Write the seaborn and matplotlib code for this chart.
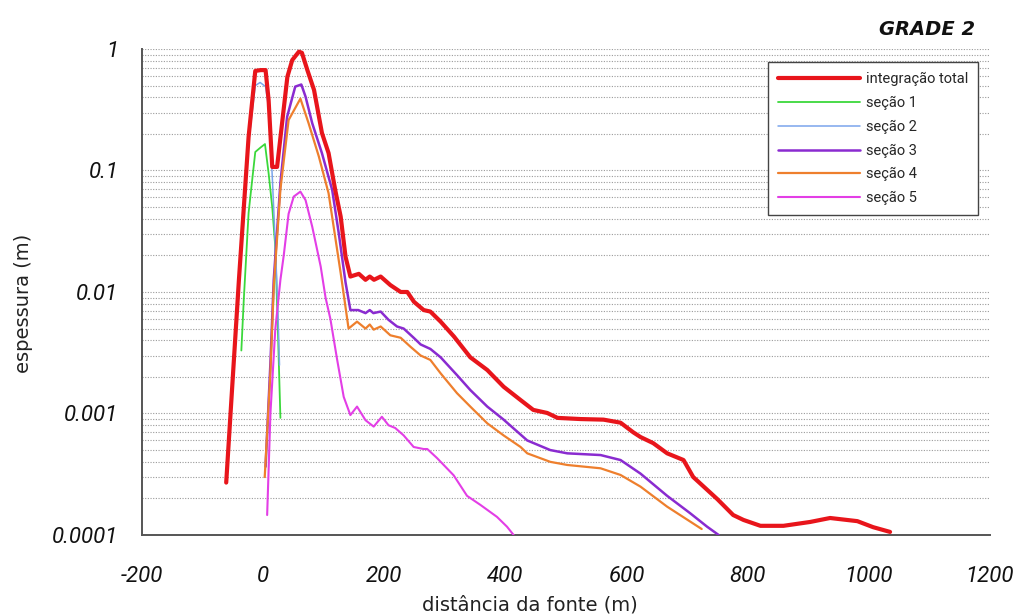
import matplotlib
matplotlib.use("Agg")
import matplotlib.pyplot as plt
from matplotlib.ticker import FixedLocator, FixedFormatter, MultipleLocator, LogLocator, NullFormatter
from matplotlib.font_manager import FontProperties
import seaborn as sns
import pandas as pd

# Thickness (m) versus distance from the source (m)
red_x = [-61, -40, -24, -13, -4, 4, 9, 15, 23, 40, 48, 59, 64, 73, 84, 97, 108, 119, 128, 136,
         144, 158, 169, 176, 183, 194, 210, 227, 238, 249, 265, 276, 293, 315, 342, 370, 397,
         425, 446, 469, 486, 524, 562, 590, 611, 623, 644, 667, 694, 710, 750, 776, 793, 821,
         859, 903, 936, 981, 1007, 1035]
red_y = [2.7e-4, 0.0126, 0.19, 0.66, 0.67, 0.67, 0.38, 0.107, 0.107, 0.59, 0.81, 0.95, 0.93,
         0.67, 0.46, 0.204, 0.139, 0.069, 0.0417, 0.0195, 0.0134, 0.0141, 0.0126, 0.0134,
         0.0126, 0.0134, 0.0114, 0.0100, 0.0100, 0.0083, 0.0071, 0.0069, 0.0057, 0.0043,
         0.0029, 0.00228, 0.00166, 0.00129, 0.00107, 0.00101, 0.00092, 0.0009, 0.00089,
         0.00084, 0.0007, 0.00064, 0.00057, 0.00047, 0.000414, 0.0003, 0.000197, 0.000146,
         0.000133, 0.000119, 0.000119, 0.000128, 0.000138, 0.00013, 0.000116, 0.000106]

green_x = [-36, -32, -24, -13, -4, 3, 9, 15, 20, 24, 28.5]
green_y = [0.0033, 0.0086, 0.045, 0.142, 0.155, 0.165, 0.095, 0.05, 0.0235, 0.0055, 0.00092]

blue_x = [-50, -40, -24, -13, -5, 4, 10, 15, 20, 24, 27]
blue_y = [0.0018, 0.011, 0.17, 0.5, 0.53, 0.49, 0.3, 0.09, 0.025, 0.008, 0.0025]

purple_x = [4, 12, 17.5, 28.5, 39.6, 53, 63, 70, 81, 97, 114, 125, 136, 144, 157, 169, 176,
            182, 194, 207, 221, 232, 248.5, 260, 276, 293, 320, 342, 370, 397, 436, 474, 502,
            557, 590, 623, 667, 705, 733, 752]
purple_y = [3.65e-4, 0.0026, 0.0126, 0.079, 0.277, 0.49, 0.51, 0.405, 0.245, 0.139, 0.069,
            0.03, 0.012, 0.0071, 0.0071, 0.0067, 0.0071, 0.0067, 0.0069, 0.0059, 0.0052, 0.005,
            0.0042, 0.0037, 0.0034, 0.0029, 0.00207, 0.00156, 0.00114, 0.00089, 0.0006, 0.0005,
            0.00047, 0.000455, 0.000414, 0.00032, 0.00021, 0.000151, 0.000117, 0.0001]

orange_x = [2.6, 12, 17.5, 28.5, 42, 61.5, 75, 92, 108, 128, 136, 141, 155, 169, 176, 182.5,
            194, 210, 227, 243, 260, 276, 293, 320, 342, 370, 397, 425, 436, 474, 502, 557, 590,
            623, 667, 705, 724]
orange_y = [3.0e-4, 0.0022, 0.011, 0.07, 0.26, 0.39, 0.245, 0.13, 0.065, 0.0143, 0.0075,
            0.005, 0.0057, 0.005, 0.0054, 0.0049, 0.0052, 0.0044, 0.0042, 0.00355, 0.003,
            0.00276, 0.00214, 0.00147, 0.00114, 0.00083, 0.00066, 0.00053, 0.00047, 0.0004,
            0.000377, 0.000354, 0.000312, 0.00025, 0.000171, 0.000129, 0.000112]

magenta_x = [6.6, 12, 20, 28.5, 34, 42, 50.5, 61.5, 70, 81, 95, 103, 111, 122, 133, 144, 155,
             169, 182.5, 196, 207, 218, 232, 248.5, 265, 271, 287, 314.5, 336.6, 358.6, 386,
             402.6, 413.5]
magenta_y = [1.46e-4, 0.001, 0.0049, 0.0126, 0.02, 0.044, 0.061, 0.067, 0.057, 0.0345, 0.0162,
             0.009, 0.006, 0.0028, 0.00137, 0.00097, 0.00114, 0.00088, 0.00078, 0.00094, 0.0008,
             0.00076, 0.00066, 0.00053, 0.00051, 0.00051, 0.00043, 0.00031, 0.00021, 0.000177,
             0.000141, 0.000117, 0.0001]

series_names = ["integração total", "seção 1", "seção 2", "seção 3", "seção 4", "seção 5"]
y_ticks = [0.0001, 0.001, 0.01, 0.1, 1]
y_tick_labels = ["0.0001", "0.001", "0.01", "0.1", "1"]
x_ticks = [-200, 0, 200, 400, 600, 800, 1000, 1200]
x_tick_labels = ["-200", "0", "200", "400", "600", "800", "1000", "1200"]

sns.set_style("white")
plt.rcParams["font.family"] = ["DejaVu Sans"]
plt.rcParams["axes.unicode_minus"] = False

fig = plt.figure(figsize=(10.18, 6.16), dpi=100)
ax = fig.add_axes([0.1395, 0.1315, 0.833, 0.789])

styles = {
    "integração total": dict(color="#e8151b", lw=3.0),
    "seção 1": dict(color="#3bd83b", lw=1.3),
    "seção 2": dict(color="#7aa4ec", lw=1.1),
    "seção 3": dict(color="#8a2bd0", lw=1.8),
    "seção 4": dict(color="#ee7f2d", lw=1.6),
    "seção 5": dict(color="#e33ee6", lw=1.5),
}
data = {
    "integração total": (red_x, red_y),
    "seção 1": (green_x, green_y),
    "seção 2": (blue_x, blue_y),
    "seção 3": (purple_x, purple_y),
    "seção 4": (orange_x, orange_y),
    "seção 5": (magenta_x, magenta_y),
}

# sections first, total integration on top
draw_order = ["seção 1", "seção 2", "seção 3", "seção 4", "seção 5", "integração total"]
handles = {}
for name in draw_order:
    xs, ys = data[name]
    df = pd.DataFrame({"x": xs, "y": ys})
    sns.lineplot(data=df, x="x", y="y", ax=ax, sort=False, label=name,
                 color=styles[name]["color"], linewidth=styles[name]["lw"],
                 zorder=5 if name == "integração total" else 3)
    handles[name] = ax.get_lines()[-1]

ax.set_yscale("log")
ax.set_xlim(-200, 1200)
ax.set_ylim(0.0001, 1)

ax.yaxis.set_major_locator(FixedLocator(y_ticks))
ax.yaxis.set_major_formatter(FixedFormatter(y_tick_labels))
ax.yaxis.set_minor_locator(LogLocator(base=10, subs=range(2, 10)))
ax.yaxis.set_minor_formatter(NullFormatter())
ax.xaxis.set_major_locator(FixedLocator(x_ticks))
ax.xaxis.set_major_formatter(FixedFormatter(x_tick_labels))
ax.xaxis.set_minor_locator(MultipleLocator(100))

ax.grid(False)
ax.yaxis.grid(True, which="both", linestyle=(0, (1, 1.4)), color="#9a9a9a", linewidth=0.8)
ax.set_axisbelow(True)

for side in ["top", "right"]:
    ax.spines[side].set_visible(False)
for side in ["left", "bottom"]:
    ax.spines[side].set_color("#555555")
    ax.spines[side].set_linewidth(1.4)

ax.tick_params(axis="y", which="major", direction="out", length=7, width=1.2, color="#555555",
               pad=10)
ax.tick_params(axis="y", which="minor", length=0)
ax.tick_params(axis="x", which="major", direction="inout", length=14, width=1.2,
               color="#555555", pad=15)
ax.tick_params(axis="x", which="minor", direction="in", length=5, width=1.0, color="#555555")

tick_fp = FontProperties(family="Roboto", style="italic", size=16)
for lab in ax.get_xticklabels() + ax.get_yticklabels():
    lab.set_fontproperties(tick_fp)
    lab.set_color("#111111")

ax.set_xlabel("distância da fonte (m)", fontsize=14, color="#222222")
ax.set_ylabel("espessura (m)", fontsize=14, color="#222222")
ax.xaxis.set_label_coords(0.4575, -0.125)
ax.yaxis.set_label_coords(-0.128, 0.477)

leg = ax.legend([handles[n] for n in series_names], series_names,
                loc="upper right", bbox_to_anchor=(0.986, 0.973),
                frameon=True, fancybox=False, framealpha=1, edgecolor="#444444",
                handlelength=5.6, handletextpad=0.4, labelspacing=0.66,
                borderpad=0.7, borderaxespad=0,
                prop=FontProperties(family="Roboto", size=10.5))
leg.get_frame().set_linewidth(1.0)
leg.set_zorder(10)

fig.text(0.958, 0.952, "GRADE 2", ha="right", va="center", fontsize=14,
         fontweight="bold", style="italic", color="#111111")

fig.savefig("out.png", dpi=100, facecolor="white")
